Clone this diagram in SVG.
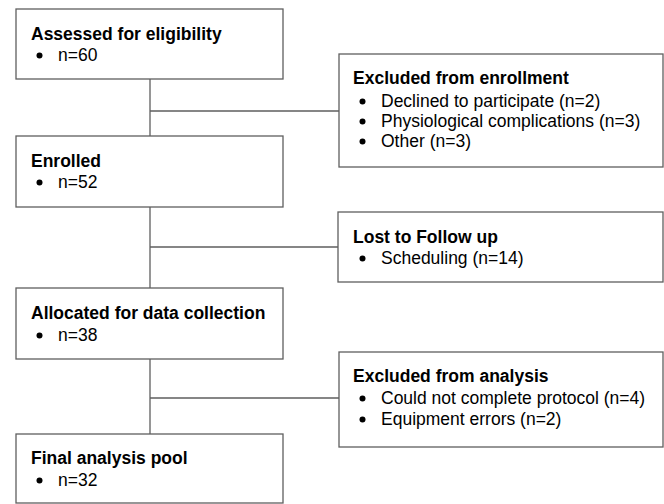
<svg xmlns="http://www.w3.org/2000/svg" width="664" height="504" viewBox="0 0 664 504">
<style>
.box{fill:#fff;stroke:#5f5f5f;stroke-width:1.3}
.ln{fill:none;stroke:#5f5f5f;stroke-width:1.3}
.t{font-family:"Liberation Sans",Arial,sans-serif;font-size:17.5px;font-weight:bold;fill:#000}
.b{font-family:"Liberation Sans",Arial,sans-serif;font-size:17.5px;fill:#000}
.d{fill:#000}
</style>
<rect width="664" height="504" fill="#fff"/>
<g id="connectors">
<path class="ln" d="M150,79V136M150,111H339"/>
<path class="ln" d="M150,207V288M150,247H338"/>
<path class="ln" d="M150,359V434M150,398H339"/>
</g>
<g id="assessed">
<rect class="box" x="16" y="9" width="267" height="70"/>
<text class="t" x="31" y="40">Assessed for eligibility</text>
<circle class="d" cx="39.5" cy="55.5" r="3"/><text class="b" x="58" y="61">n=60</text>
</g>
<g id="excluded-enrollment">
<rect class="box" x="339" y="54" width="324" height="113"/>
<text class="t" x="353" y="84">Excluded from enrollment</text>
<circle class="d" cx="362.5" cy="101.5" r="3"/><text class="b" x="381" y="107">Declined to participate (n=2)</text>
<circle class="d" cx="362.5" cy="121.5" r="3"/><text class="b" x="381" y="127">Physiological complications (n=3)</text>
<circle class="d" cx="362.5" cy="141.5" r="3"/><text class="b" x="381" y="147">Other (n=3)</text>
</g>
<g id="enrolled">
<rect class="box" x="16" y="136" width="267" height="71"/>
<text class="t" x="31" y="167">Enrolled</text>
<circle class="d" cx="39.5" cy="182.5" r="3"/><text class="b" x="58" y="188">n=52</text>
</g>
<g id="lost">
<rect class="box" x="338" y="212" width="325" height="70"/>
<text class="t" x="353" y="243">Lost to Follow up</text>
<circle class="d" cx="362.5" cy="258.5" r="3"/><text class="b" x="381" y="264">Scheduling (n=14)</text>
</g>
<g id="allocated">
<rect class="box" x="16" y="288" width="267" height="71"/>
<text class="t" x="31" y="319">Allocated for data collection</text>
<circle class="d" cx="39.5" cy="335.5" r="3"/><text class="b" x="58" y="341">n=38</text>
</g>
<g id="excluded-analysis">
<rect class="box" x="339" y="352" width="324" height="95"/>
<text class="t" x="353" y="382">Excluded from analysis</text>
<circle class="d" cx="362.5" cy="398.5" r="3"/><text class="b" x="381" y="404">Could not complete protocol (n=4)</text>
<circle class="d" cx="362.5" cy="419.5" r="3"/><text class="b" x="381" y="425">Equipment errors (n=2)</text>
</g>
<g id="final">
<rect class="box" x="16" y="434" width="267" height="69"/>
<text class="t" x="31" y="464">Final analysis pool</text>
<circle class="d" cx="39.5" cy="480.5" r="3"/><text class="b" x="58" y="486">n=32</text>
</g>
</svg>
